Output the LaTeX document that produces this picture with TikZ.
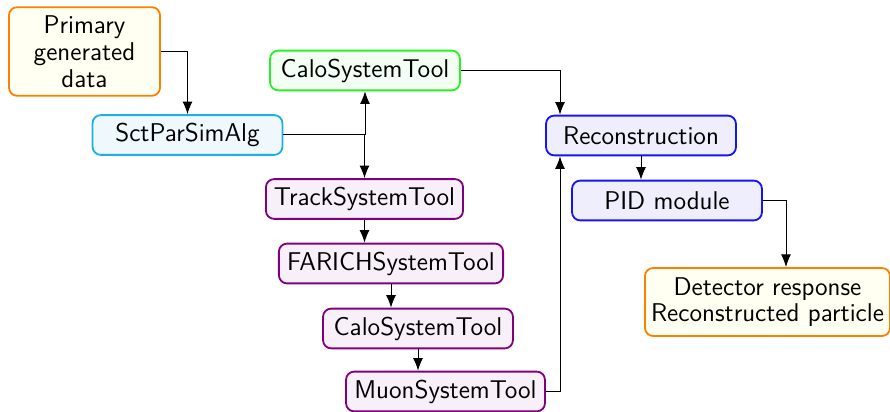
\documentclass[tikz,border=0pt]{standalone}
\usetikzlibrary{arrows.meta,calc}
\definecolor{orgB}{RGB}{255,128,0}
\definecolor{orgF}{RGB}{255,255,242}
\definecolor{cyaB}{RGB}{30,175,230}
\definecolor{cyaF}{RGB}{238,248,253}
\definecolor{grnB}{RGB}{40,240,40}
\definecolor{grnF}{RGB}{242,255,242}
\definecolor{purB}{RGB}{128,0,128}
\definecolor{purF}{RGB}{248,240,248}
\definecolor{bluB}{RGB}{20,20,245}
\definecolor{bluF}{RGB}{238,238,252}
\tikzset{
  box/.style={draw, rounded corners=4.5pt, line width=1pt, align=center,
    minimum height=22pt, minimum width=105pt, inner sep=2pt,
    font=\sffamily\fontsize{14.2}{14.8}\selectfont},
  orgbox/.style={box, draw=orgB, fill=orgF},
  cyabox/.style={box, draw=cyaB, fill=cyaF},
  grnbox/.style={box, draw=grnB, fill=grnF},
  purbox/.style={box, draw=purB, fill=purF},
  blubox/.style={box, draw=bluB, fill=bluF},
  conn/.style={draw=black, line width=0.55pt, -{Latex[length=7pt,width=5.5pt]}}
}
\begin{document}
\begin{tikzpicture}[x=0.553pt,y=-0.553pt]
\useasboundingbox (0,0) rectangle (890,412);
\node[orgbox, minimum width=83.5pt, minimum height=49pt] (prim) at (84.5,51.5) {Primary\\generated\\data};
\node[cyabox] (sct) at (187.5,135) {SctParSimAlg};
\node[grnbox] (calo) at (365,70.5) {CaloSystemTool};
\node[purbox, minimum width=109pt] (track) at (364.5,199) {TrackSystemTool};
\node[purbox, minimum width=124pt] (farich) at (391,263.5) {FARICHSystemTool};
\node[purbox] (calob) at (418,328.5) {CaloSystemTool};
\node[purbox, minimum width=110pt] (muon) at (445.5,391.5) {MuonSystemTool};
\node[blubox] (reco) at (641,135.5) {Reconstruction};
\node[blubox] (pid) at (667,200.5) {PID module};
\node[orgbox, minimum width=135.5pt, minimum height=37.6pt] (det) at (767.5,302) {Detector response\\Reconstructed particle};
\coordinate (recoin) at (560,135.5);
\coordinate (detin) at (786,302);
\path[conn] (prim.east) -| (sct.north);
\path[conn] (sct.east) -| (calo.south);
\path[conn] (sct.east) -| (track.north);
\path[conn] (calo.east) -| (recoin |- reco.north);
\path[conn] (muon.east) -| (recoin |- reco.south);
\path[conn] (track.south) -- (track.south |- farich.north);
\path[conn] (farich.south) -- (farich.south |- calob.north);
\path[conn] (calob.south) -- (calob.south |- muon.north);
\path[conn] (reco.south) -- (reco.south |- pid.north);
\path[conn] (pid.east) -| (detin |- det.north);
\end{tikzpicture}
\end{document}
